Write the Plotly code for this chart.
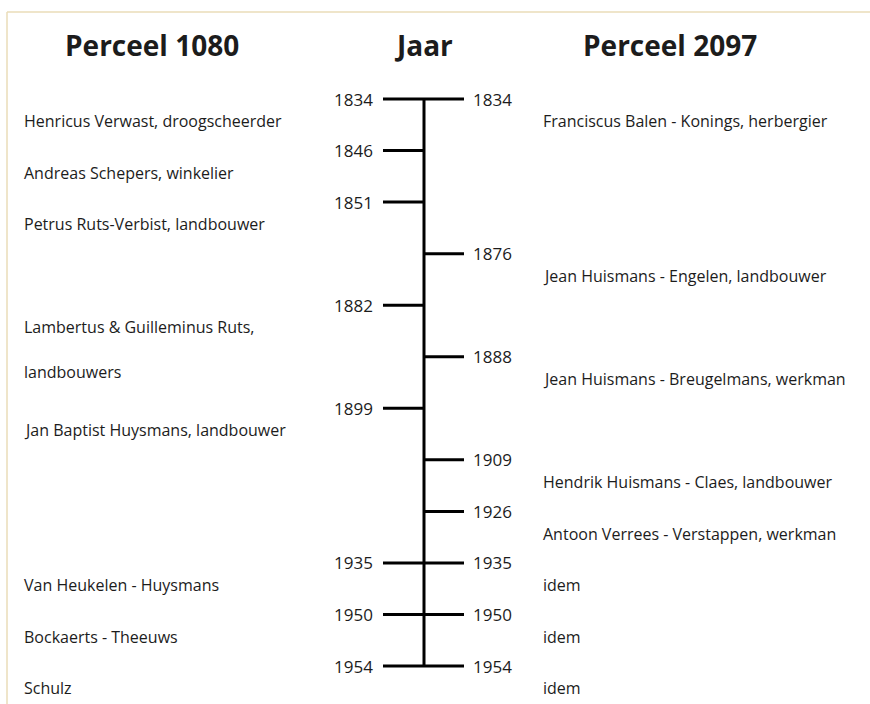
import plotly.graph_objects as go

# ---- data ----
years_all = [1834, 1846, 1851, 1876, 1882, 1888, 1899, 1909, 1926, 1935, 1950, 1954]
left_years = [1834, 1846, 1851, 1882, 1899, 1935, 1950, 1954]
right_years = [1834, 1876, 1888, 1909, 1926, 1935, 1950, 1954]
left_owners = [
    "Henricus Verwast, droogscheerder",
    "Andreas Schepers, winkelier",
    "Petrus Ruts-Verbist, landbouwer",
    "Lambertus & Guilleminus Ruts,\nlandbouwers",
    "Jan Baptist Huysmans, landbouwer",
    "Van Heukelen - Huysmans",
    "Bockaerts - Theeuws",
    "Schulz",
]
right_owners = [
    "Franciscus Balen - Konings, herbergier",
    "Jean Huismans - Engelen, landbouwer",
    "Jean Huismans - Breugelmans, werkman",
    "Hendrik Huismans - Claes, landbouwer",
    "Antoon Verrees - Verstappen, werkman",
    "idem",
    "idem",
    "idem",
]
headers = ["Perceel 1080", "Jaar", "Perceel 2097"]

# ---- style / layout ----
W, H = 870, 704
X_AXIS = 424
X_LEFT_TICK = 383
X_RIGHT_TICK = 464
X_LEFT_YEAR = 375
X_RIGHT_YEAR = 471
X_LEFT_TEXT = 22
X_RIGHT_TEXT = 541
HEADER_X = [152, 423, 670]
TOP_PX, ROW_PX = 99, 51.55
LABEL_OFF = 0.43
LINE_GAP = 0.87
FONT = "Open Sans"
INK = "#1c1c1c"

row = {y: i for i, y in enumerate(years_all)}

fig = go.Figure()

# main vertical line
fig.add_trace(go.Scatter(
    x=[X_AXIS, X_AXIS], y=[row[years_all[0]], row[years_all[-1]]],
    mode="lines", line=dict(color="black", width=3), hoverinfo="skip"))

# ticks
tx, ty = [], []
for y in left_years:
    tx += [X_LEFT_TICK, X_AXIS, None]
    ty += [row[y], row[y], None]
for y in right_years:
    tx += [X_AXIS, X_RIGHT_TICK, None]
    ty += [row[y], row[y], None]
fig.add_trace(go.Scatter(x=tx, y=ty, mode="lines",
                         line=dict(color="black", width=3), hoverinfo="skip"))

ann = []
for y in left_years:
    ann.append(dict(x=X_LEFT_YEAR, y=row[y], text=str(y), xanchor="right",
                    yanchor="middle", showarrow=False,
                    font=dict(family=FONT, size=17, color=INK)))
for y in right_years:
    ann.append(dict(x=X_RIGHT_YEAR, y=row[y], text=str(y), xanchor="left",
                    yanchor="middle", showarrow=False,
                    font=dict(family=FONT, size=17, color=INK)))

for yrs, owners, xpos in [(left_years, left_owners, X_LEFT_TEXT),
                          (right_years, right_owners, X_RIGHT_TEXT)]:
    for y, name in zip(yrs, owners):
        for k, line in enumerate(name.split("\n")):
            ann.append(dict(x=xpos, y=row[y] + LABEL_OFF + k * LINE_GAP,
                            text=line, xanchor="left", yanchor="middle",
                            showarrow=False,
                            font=dict(family=FONT, size=16, color=INK)))

for hx, ht in zip(HEADER_X, headers):
    ann.append(dict(x=hx, y=1 - 45 / H, yref="paper", text="<b>" + ht + "</b>",
                    xanchor="center", yanchor="middle", showarrow=False,
                    font=dict(family=FONT, size=28, color=INK)))

y_top = -TOP_PX / ROW_PX
y_bot = (H - TOP_PX) / ROW_PX

fig.update_layout(
    width=W, height=H,
    margin=dict(l=0, r=0, t=0, b=0),
    paper_bgcolor="white", plot_bgcolor="white",
    showlegend=False,
    xaxis=dict(range=[0, W], visible=False, fixedrange=True),
    yaxis=dict(range=[y_bot, y_top], visible=False, fixedrange=True),
    annotations=ann,
    shapes=[
        dict(type="line", xref="paper", yref="paper", x0=7 / W, x1=1,
             y0=1 - 12 / H, y1=1 - 12 / H, line=dict(color="#eadcb8", width=1.5)),
        dict(type="line", xref="paper", yref="paper", x0=7 / W, x1=7 / W,
             y0=0, y1=1 - 12 / H, line=dict(color="#eadcb8", width=1.5)),
    ],
)

fig.write_html("out.html", config={"displayModeBar": False},
               post_script="document.body.style.margin='0';document.body.style.overflow='hidden';")
